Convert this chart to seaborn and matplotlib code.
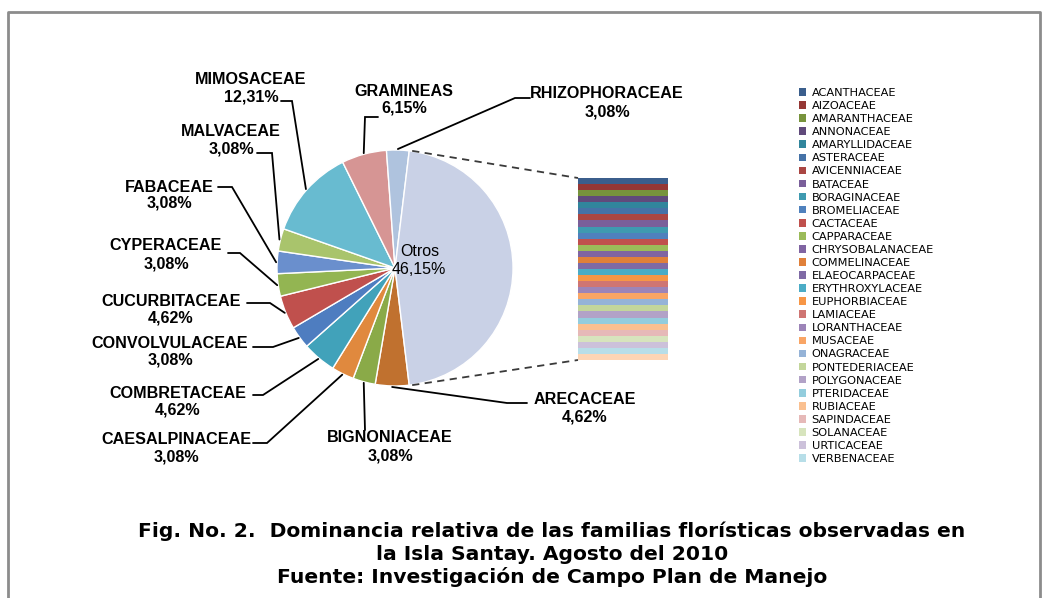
import numpy as np
import matplotlib
matplotlib.use("Agg")
import matplotlib.pyplot as plt
import seaborn as sns

# familias principales (numero de especies por familia)
familias = ["ARECACEAE", "BIGNONIACEAE", "CAESALPINACEAE", "COMBRETACEAE",
            "CONVOLVULACEAE", "CUCURBITACEAE", "CYPERACEAE", "FABACEAE",
            "MALVACEAE", "MIMOSACEAE", "GRAMINEAS", "RHIZOPHORACEAE"]
especies = [3, 2, 2, 3, 2, 3, 2, 2, 2, 8, 4, 2]
colores = ["#C0712F", "#8AAA48", "#E0893E", "#41A2BA", "#4E7DC0", "#C0504D",
           "#93B552", "#6A8FCD", "#A9C46C", "#68BBD0", "#D69594", "#AFC3DE"]

# familias agrupadas en "Otros"
otras_familias = ["ACANTHACEAE", "AIZOACEAE", "AMARANTHACEAE", "ANNONACEAE",
                  "AMARYLLIDACEAE", "ASTERACEAE", "AVICENNIACEAE", "BATACEAE",
                  "BORAGINACEAE", "BROMELIACEAE", "CACTACEAE", "CAPPARACEAE",
                  "CHRYSOBALANACEAE", "COMMELINACEAE", "ELAEOCARPACEAE",
                  "ERYTHROXYLACEAE", "EUPHORBIACEAE", "LAMIACEAE", "LORANTHACEAE",
                  "MUSACEAE", "ONAGRACEAE", "PONTEDERIACEAE", "POLYGONACEAE",
                  "PTERIDACEAE", "RUBIACEAE", "SAPINDACEAE", "SOLANACEAE",
                  "URTICACEAE", "VERBENACEAE", "VITACEAE"]
otras_especies = [1, 1, 1, 1, 1, 1, 1, 1, 1, 1, 1, 1, 1, 1, 1,
                  1, 1, 1, 1, 1, 1, 1, 1, 1, 1, 1, 1, 1, 1, 1]
otros_colores = ["#3B5E8C", "#953735", "#77933C", "#604A7B", "#31859C",
                 "#4572A7", "#AA4643", "#7A5F9A", "#3F9AB0", "#4F81BD",
                 "#C0504D", "#9BBB59", "#8064A2", "#E0803A", "#7F6AA5",
                 "#4BACC6", "#F79646", "#CF7573", "#9C84B8", "#F9A565",
                 "#95B3D7", "#C3D69B", "#B2A2C7", "#93CDDD", "#FAC090",
                 "#E6B9B8", "#D7E4BD", "#CCC1DA", "#B7DEE8", "#FCD5B5"]
color_otros = "#C9D1E6"

sns.set_theme(style="white")
plt.rcParams["font.family"] = ["Liberation Sans", "DejaVu Sans"]
plt.rcParams["text.color"] = "black"

W, H = 1052, 598
def Y(y):
    return H - y

fig = plt.figure(figsize=(W / 100, H / 100), dpi=100)
ax = fig.add_axes([0, 0, 1, 1])

vals = especies + [sum(otras_especies)]
total = sum(vals)
ang_otros = 360.0 * vals[-1] / total
cx, cy, r = 395, Y(268), 118
expl = 0.025

ax.pie(vals, colors=colores + [color_otros], startangle=-ang_otros / 2,
       counterclock=False, center=(cx, cy), radius=r,
       explode=[0] * len(especies) + [expl],
       wedgeprops=dict(edgecolor="white", linewidth=1.0))

def pct(v):
    return f"{100.0 * v / total:.2f}%".replace(".", ",")

# posiciones de etiquetas (x centro, y nombre, y porcentaje) y codos de las guias
layout = {
    "MIMOSACEAE": (251, 79, 97, [(281, 101), (292, 101)]),
    "MALVACEAE": (231, 131, 149, [(257, 153), (272, 153)]),
    "FABACEAE": (169, 187, 203, [(218, 187), (232, 187)]),
    "CYPERACEAE": (166, 246, 264, [(228, 253), (240, 253)]),
    "CUCURBITACEAE": (171, 301, 318, [(247, 303), (270, 303)]),
    "CONVOLVULACEAE": (170, 343, 360, [(253, 347), (273, 347)]),
    "COMBRETACEAE": (178, 393, 410, [(253, 395), (263, 395)]),
    "CAESALPINACEAE": (176, 440, 457, [(253, 443), (267, 443)]),
    "BIGNONIACEAE": (390, 438, 456, [(365, 430)]),
    "ARECACEAE": (585, 399, 417, [(527, 403), (507, 403)]),
    "GRAMINEAS": (404, 92, 108, [(378, 117), (365, 117)]),
    "RHIZOPHORACEAE": (607, 94, 112, [(530, 98), (515, 98)]),
}

theta = -ang_otros / 2
for fam, v in zip(familias, especies):
    span = 360.0 * v / total
    mid = np.deg2rad(theta - span / 2)
    theta -= span
    ancla = (cx + (r + 1) * np.cos(mid), cy + (r + 1) * np.sin(mid))
    tx, ty1, ty2, codo = layout[fam]
    pts = [(x, Y(y)) for x, y in codo] + [ancla]
    ax.plot([p[0] for p in pts], [p[1] for p in pts], color="black", lw=1.3,
            solid_joinstyle="miter")
    ax.text(tx, Y(ty1), fam, ha="center", va="center", fontsize=11.6,
            fontweight="bold", color="black")
    ax.text(tx, Y(ty2), pct(v), ha="center", va="center", fontsize=11.6,
            fontweight="bold", color="black")

# etiqueta de Otros
ax.text(420, Y(252), "Otros", ha="center", va="center", fontsize=11.5,
        color="black")
ax.text(419, Y(269), pct(vals[-1]), ha="center", va="center", fontsize=11.5,
        color="black")

# barra secundaria apilada
bx, btop, bbot, bw = 623, Y(178), Y(360), 90
unidad = (btop - bbot) / sum(otras_especies)
acum = btop
barras = []
for fam, v, c in zip(otras_familias, otras_especies, otros_colores):
    b = ax.bar(bx, v * unidad, bottom=acum - v * unidad, width=bw, color=c,
               linewidth=0, label=fam)
    barras.append(b[0])
    acum -= v * unidad

# lineas de conexion
dx = expl * r
a1 = np.deg2rad(ang_otros / 2)
p_sup = (cx + dx + r * np.cos(a1), cy + r * np.sin(a1))
p_inf = (cx + dx + r * np.cos(-a1), cy + r * np.sin(-a1))
ax.plot([p_sup[0], bx - bw / 2], [p_sup[1], btop], color="#3a3a3a", lw=1.3,
        ls=(0, (4, 3)))
ax.plot([p_inf[0], bx - bw / 2], [p_inf[1], bbot], color="#3a3a3a", lw=1.3,
        ls=(0, (4, 3)))

# leyenda (recortada como en el original)
fig.legend(barras[:29], otras_familias[:29], loc="upper left",
           bbox_to_anchor=(799 / W, 1 - 88 / H), frameon=False,
           prop=dict(family="DejaVu Sans", size=8.2), labelcolor="black",
           handlelength=0.65, handleheight=0.65, handletextpad=0.45,
           labelspacing=0.27, borderpad=0, borderaxespad=0)

# marco del grafico
ax.plot([8, 8, 1040, 1040], [-5, Y(12), Y(12), -5], color="#8c8c8c", lw=2)

# titulo
tfont = dict(family="DejaVu Sans", size=14.6, weight="bold")
ax.text(552, Y(531), "Fig. No. 2.  Dominancia relativa de las familias florísticas observadas en",
        ha="center", va="center", fontdict=tfont, color="black")
ax.text(552, Y(554), "la Isla Santay. Agosto del 2010", ha="center", va="center",
        fontdict=tfont, color="black")
ax.text(552, Y(577), "Fuente: Investigación de Campo Plan de Manejo", ha="center",
        va="center", fontdict=tfont, color="black")

ax.set_xlim(0, W)
ax.set_ylim(0, H)
ax.set_aspect("equal")
ax.axis("off")

fig.savefig("out.png", dpi=100, facecolor="white")
